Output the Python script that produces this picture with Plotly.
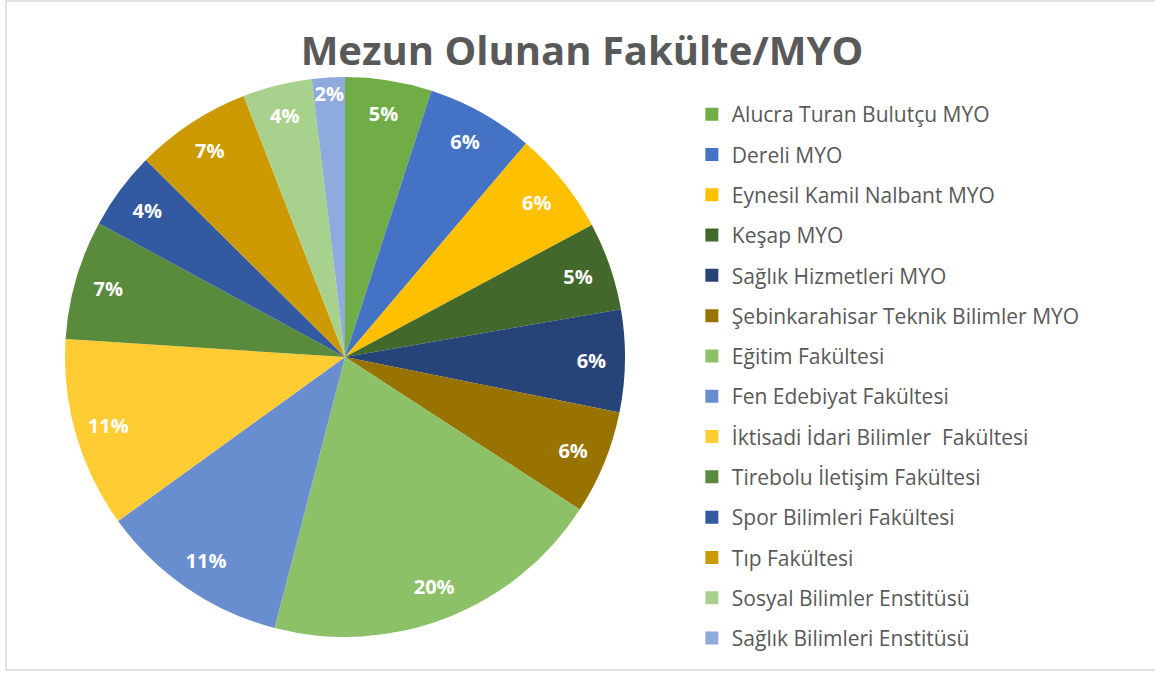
import plotly.graph_objects as go

labels = [
    "Alucra Turan Bulutçu MYO",
    "Dereli MYO",
    "Eynesil Kamil Nalbant MYO",
    "Keşap MYO",
    "Sağlık Hizmetleri MYO",
    "Şebinkarahisar Teknik Bilimler MYO",
    "Eğitim Fakültesi",
    "Fen Edebiyat Fakültesi",
    "İktisadi İdari Bilimler  Fakültesi",
    "Tirebolu İletişim Fakültesi",
    "Spor Bilimleri Fakültesi",
    "Tıp Fakültesi",
    "Sosyal Bilimler Enstitüsü",
    "Sağlık Bilimleri Enstitüsü",
]
values = [5.0, 6.2, 6.0, 5.1, 5.9, 6.0, 19.9, 11.0, 11.0, 6.9, 4.5, 6.7, 4.0, 1.9]
colors = [
    "#70AD47", "#4472C4", "#FFC000", "#43682B", "#264478", "#997300",
    "#8CC168", "#698ED0", "#FFCD33", "#5A8A3C", "#335AA1", "#CC9A00",
    "#A9D18E", "#8FAADC",
]

W, H = 1155, 673
cx, cy, r = 345, 357, 280
dom = dict(x=[(cx - r) / W, (cx + r) / W], y=[(H - cy - r) / H, (H - cy + r) / H])

fig = go.Figure()

# main pie (colours, no text)
fig.add_trace(go.Pie(
    labels=labels, values=values, sort=False,
    direction="clockwise", rotation=0,
    marker=dict(colors=colors, line=dict(width=0)),
    textinfo="none", showlegend=False,
    domain=dom, hoverinfo="label+percent",
))

# same data as a transparent ring, used only to place the percentage labels near the rim
fig.add_trace(go.Pie(
    labels=labels, values=values, sort=False,
    direction="clockwise", rotation=0, hole=0.76,
    marker=dict(colors=["rgba(0,0,0,0)"] * len(labels), line=dict(width=0)),
    texttemplate="%{percent:.0%}",
    textposition="inside",
    insidetextorientation="horizontal",
    textfont=dict(family="Open Sans", size=20, color="white", weight="bold"),
    showlegend=False, hoverinfo="skip",
    domain=dom,
))

# legend entries
for lab, col in zip(labels, colors):
    fig.add_trace(go.Scatter(
        x=[None], y=[None], mode="markers", name=lab, legendgroup=lab,
        marker=dict(symbol="square", size=13, color=col),
        showlegend=True, hoverinfo="skip",
    ))

fig.update_layout(
    width=W, height=H,
    margin=dict(l=0, r=0, t=0, b=0),
    paper_bgcolor="white",
    plot_bgcolor="white",
    xaxis=dict(visible=False),
    yaxis=dict(visible=False),
    uniformtext=dict(minsize=20, mode="show"),
    title=dict(
        text="<b>Mezun Olunan Fakülte/MYO</b>",
        x=582 / W, xanchor="center",
        y=1 - 51 / H, yanchor="middle",
        font=dict(family="Open Sans", size=40, color="#595959"),
    ),
    legend=dict(
        x=0.599, xanchor="left",
        y=1 - 94 / H, yanchor="top",
        font=dict(family="Open Sans", size=21, color="#595959"),
        traceorder="grouped",
        tracegroupgap=10,
        bgcolor="rgba(0,0,0,0)",
    ),
    shapes=[dict(
        type="rect", xref="paper", yref="paper",
        x0=6 / W, x1=1.01, y0=3 / H, y1=1 - 1 / H,
        line=dict(color="#D9D9D9", width=1.5),
    )],
)

fig.write_html(
    "out.html",
    config={"displayModeBar": False},
    post_script="document.body.style.margin='0';document.body.style.padding='0';",
)
